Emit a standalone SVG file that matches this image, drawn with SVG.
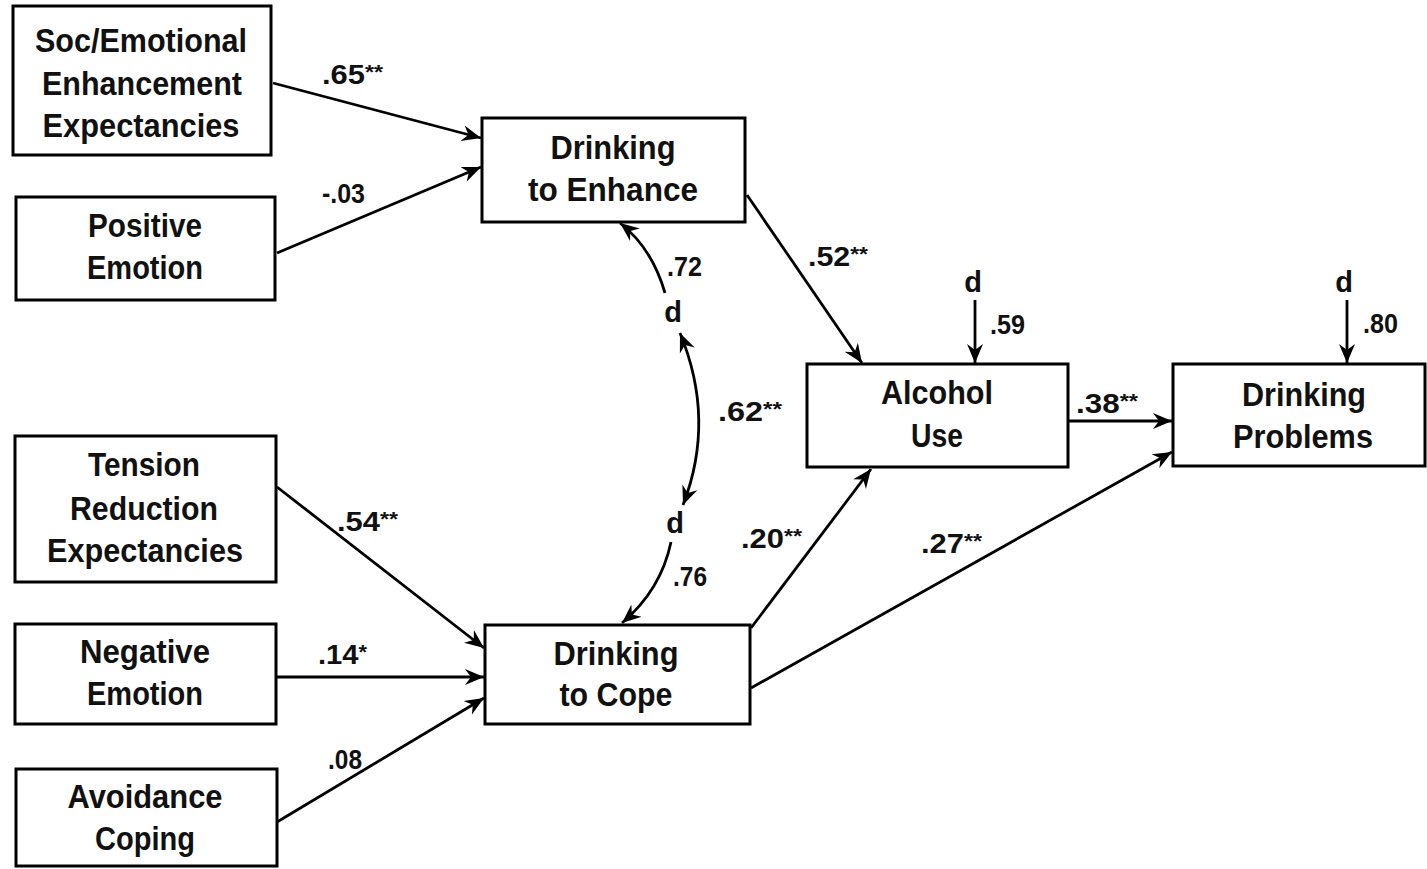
<svg xmlns="http://www.w3.org/2000/svg" width="1427" height="869" viewBox="0 0 1427 869">
<style>
.box{fill:#fff;stroke:#000;stroke-width:3}
.t{font-family:"Liberation Sans",Arial,sans-serif;font-weight:bold;font-size:33px;fill:#111;text-anchor:middle}
.l{font-family:"Liberation Sans",Arial,sans-serif;font-weight:bold;font-size:28px;fill:#111}
.s{font-size:21px}
.d{font-family:"Liberation Sans",Arial,sans-serif;font-weight:bold;font-size:29px;fill:#111;text-anchor:middle}
.c{fill:none;stroke:#000;stroke-width:2.8}
</style>
<defs>
<marker id="ah" markerUnits="userSpaceOnUse" markerWidth="22" markerHeight="18" refX="19" refY="8" orient="auto-start-reverse" viewBox="0 0 22 16">
<path d="M0,0 L19,8 L0,16 L6,8 Z" fill="#000"/>
</marker>
</defs>
<rect width="1427" height="869" fill="#fff"/>
<g id="connectors">
<path class="c" d="M273,83 L481,138" marker-end="url(#ah)"/>
<path class="c" d="M277,253 L481,167" marker-end="url(#ah)"/>
<path class="c" d="M747,195 L862,363" marker-end="url(#ah)"/>
<path class="c" d="M975,300 L975,363" marker-end="url(#ah)"/>
<path class="c" d="M1347,300 L1347,363" marker-end="url(#ah)"/>
<path class="c" d="M1068,421 L1172,421" marker-end="url(#ah)"/>
<path class="c" d="M751,628 L871,469" marker-end="url(#ah)"/>
<path class="c" d="M751,688 L1172,452" marker-end="url(#ah)"/>
<path class="c" d="M277,487 L484,648" marker-end="url(#ah)"/>
<path class="c" d="M277,677 L484,677" marker-end="url(#ah)"/>
<path class="c" d="M277,822 L484,698" marker-end="url(#ah)"/>
<path class="c" d="M665,293 Q652,248 620,223" marker-end="url(#ah)"/>
<path class="c" d="M680,333 Q716,420 683,505" marker-start="url(#ah)" marker-end="url(#ah)"/>
<path class="c" d="M671,542 Q661,590 622,623" marker-end="url(#ah)"/>
<text class="l" x="322" y="84" textLength="61" lengthAdjust="spacingAndGlyphs">.65<tspan class="s" dy="-5">**</tspan></text>
<text class="l" x="322" y="203" textLength="43" lengthAdjust="spacingAndGlyphs">-.03</text>
<text class="l" x="808" y="266" textLength="60" lengthAdjust="spacingAndGlyphs">.52<tspan class="s" dy="-5">**</tspan></text>
<text class="d" x="973" y="292">d</text>
<text class="l" x="990" y="334" textLength="35" lengthAdjust="spacingAndGlyphs">.59</text>
<text class="d" x="1344" y="292">d</text>
<text class="l" x="1363" y="333" textLength="35" lengthAdjust="spacingAndGlyphs">.80</text>
<text class="l" x="1076" y="413" textLength="62" lengthAdjust="spacingAndGlyphs">.38<tspan class="s" dy="-5">**</tspan></text>
<text class="l" x="741" y="548" textLength="61" lengthAdjust="spacingAndGlyphs">.20<tspan class="s" dy="-5">**</tspan></text>
<text class="l" x="921" y="553" textLength="61" lengthAdjust="spacingAndGlyphs">.27<tspan class="s" dy="-5">**</tspan></text>
<text class="l" x="337" y="531" textLength="61" lengthAdjust="spacingAndGlyphs">.54<tspan class="s" dy="-5">**</tspan></text>
<text class="l" x="318" y="664" textLength="49" lengthAdjust="spacingAndGlyphs">.14<tspan class="s" dy="-5">*</tspan></text>
<text class="l" x="328" y="769" textLength="34" lengthAdjust="spacingAndGlyphs">.08</text>
<text class="l" x="667" y="276" textLength="35" lengthAdjust="spacingAndGlyphs">.72</text>
<text class="d" x="673" y="322">d</text>
<text class="l" x="718" y="421" textLength="64" lengthAdjust="spacingAndGlyphs">.62<tspan class="s" dy="-5">**</tspan></text>
<text class="d" x="675" y="533">d</text>
<text class="l" x="673" y="586" textLength="34" lengthAdjust="spacingAndGlyphs">.76</text>
</g>
<g id="soc-emotional">
<rect class="box" x="13" y="6" width="258" height="149"/>
<text class="t" x="141" y="52" textLength="212" lengthAdjust="spacingAndGlyphs">Soc/Emotional</text>
<text class="t" x="142" y="95" textLength="200" lengthAdjust="spacingAndGlyphs">Enhancement</text>
<text class="t" x="141" y="137" textLength="197" lengthAdjust="spacingAndGlyphs">Expectancies</text>
</g>
<g id="positive-emotion">
<rect class="box" x="16" y="197" width="259" height="103"/>
<text class="t" x="145" y="237" textLength="114" lengthAdjust="spacingAndGlyphs">Positive</text>
<text class="t" x="145" y="279" textLength="116" lengthAdjust="spacingAndGlyphs">Emotion</text>
</g>
<g id="drinking-to-enhance">
<rect class="box" x="482" y="118" width="263" height="104"/>
<text class="t" x="613" y="159" textLength="125" lengthAdjust="spacingAndGlyphs">Drinking</text>
<text class="t" x="613" y="201" textLength="170" lengthAdjust="spacingAndGlyphs">to Enhance</text>
</g>
<g id="alcohol-use">
<rect class="box" x="807" y="364" width="261" height="103"/>
<text class="t" x="937" y="404" textLength="112" lengthAdjust="spacingAndGlyphs">Alcohol</text>
<text class="t" x="937" y="447" textLength="52" lengthAdjust="spacingAndGlyphs">Use</text>
</g>
<g id="drinking-problems">
<rect class="box" x="1173" y="364" width="252" height="102"/>
<text class="t" x="1304" y="406" textLength="124" lengthAdjust="spacingAndGlyphs">Drinking</text>
<text class="t" x="1303" y="448" textLength="140" lengthAdjust="spacingAndGlyphs">Problems</text>
</g>
<g id="tension-reduction">
<rect class="box" x="15" y="436" width="261" height="146"/>
<text class="t" x="144" y="476" textLength="112" lengthAdjust="spacingAndGlyphs">Tension</text>
<text class="t" x="144" y="520" textLength="148" lengthAdjust="spacingAndGlyphs">Reduction</text>
<text class="t" x="145" y="562" textLength="196" lengthAdjust="spacingAndGlyphs">Expectancies</text>
</g>
<g id="negative-emotion">
<rect class="box" x="15" y="624" width="261" height="100"/>
<text class="t" x="145" y="663" textLength="130" lengthAdjust="spacingAndGlyphs">Negative</text>
<text class="t" x="145" y="705" textLength="116" lengthAdjust="spacingAndGlyphs">Emotion</text>
</g>
<g id="avoidance-coping">
<rect class="box" x="16" y="769" width="261" height="97"/>
<text class="t" x="145" y="808" textLength="155" lengthAdjust="spacingAndGlyphs">Avoidance</text>
<text class="t" x="145" y="850" textLength="100" lengthAdjust="spacingAndGlyphs">Coping</text>
</g>
<g id="drinking-to-cope">
<rect class="box" x="485" y="625" width="265" height="99"/>
<text class="t" x="616" y="665" textLength="125" lengthAdjust="spacingAndGlyphs">Drinking</text>
<text class="t" x="616" y="706" textLength="113" lengthAdjust="spacingAndGlyphs">to Cope</text>
</g>
</svg>
